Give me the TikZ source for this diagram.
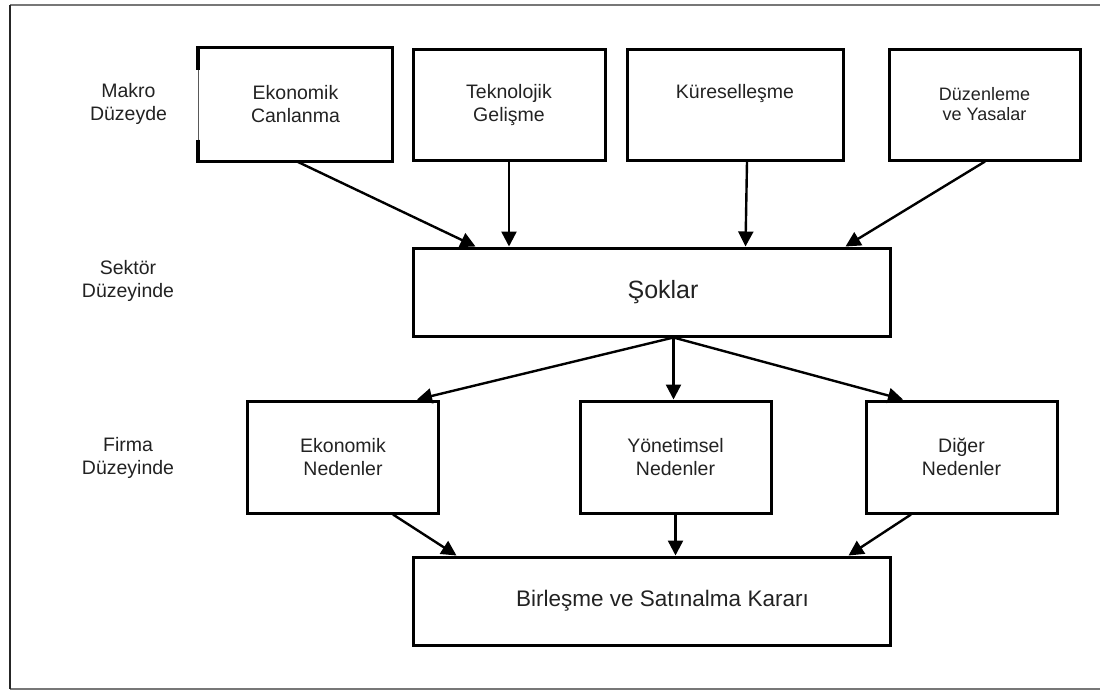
\documentclass[tikz,border=0pt]{standalone}
\usepackage{fontspec}
\setmainfont{Liberation Sans}
\usetikzlibrary{arrows.meta,calc}

\definecolor{txt}{HTML}{222222}
\definecolor{framegray}{HTML}{777777}
\newcommand\boxfont{\fontsize{19.5}{23}\selectfont}
\newcommand\narrowfont{\fontsize{18}{20}\selectfont}
\newcommand\bigboxfont{\fontsize{22.5}{26}\selectfont}
\newcommand\shockfont{\fontsize{25}{29}\selectfont}

\begin{document}
\begin{tikzpicture}[x=1pt,y=-1pt,
  box/.style={draw, line width=3pt, inner sep=0pt, align=center,
    minimum width=191pt, minimum height=111pt, font=\boxfont, text=txt},
  wide/.style={draw, line width=3pt, inner sep=0pt,
    minimum width=477pt, minimum height=88pt, text=txt},
  level/.style={align=center, font=\boxfont, text=txt, inner sep=0pt},
  conn/.style={line width=2.4pt, -{Triangle[length=15pt,width=15pt]}},
  edge/.style={line width=1.4pt, framegray}]

\useasboundingbox (0,0) rectangle (1100,691);

% outer frame (open on the right)
\coordinate (ftl) at (10,5);
\coordinate (ftr) at (1100,5);
\coordinate (fbl) at (10,689);
\coordinate (fbr) at (1100,689);
\draw[edge] (ftl) -- (ftr);
\draw[edge] (fbl) -- (fbr);
\draw[line width=1.3pt, black!85] (ftl) -- (fbl);

% level captions
\node[level] (lmakro)  at (128.5,104) {Makro\\Düzeyde};
\node[level] (lsektor) at (128,281)   {Sektör\\Düzeyinde};
\node[level] (lfirma)  at (128,458)   {Firma\\Düzeyinde};

% macro level: first box has a broken left side
\node[box, draw=none] (b1) at (295.5,104.5) {Ekonomik\\Canlanma};
\draw[line width=3pt] (b1.south west) -- (b1.south east) -- (b1.north east) -- (b1.north west);
\draw[line width=1.2pt, black!65] (b1.north west) -- (b1.south west);
\draw[line width=3.4pt] ($(b1.north west)+(-0.5,-1.5)$) -- ($(b1.north west)+(-0.5,22)$);
\draw[line width=3.4pt] ($(b1.south west)+(-0.5,-22)$) -- ($(b1.south west)+(-0.5,1.5)$);

\node[box, minimum width=192pt] (b2) at (509,104.5)   {Teknolojik\\Gelişme};
\node[box, minimum width=216pt] (b3) at (735,104.5)   {Küreselleşme\\\phantom{Xg}};
\node[box, font=\narrowfont] (b4) at (984.5,104.5) {Düzenleme\\ve Yasalar};

% sector level
\node[wide, font=\shockfont] (sok) at (651.5,292) {\hspace*{23pt}Şoklar};

% firm level
\node[box, minimum height=112pt] (en) at (343,457)   {Ekonomik\\Nedenler};
\node[box, minimum height=112pt] (yn) at (675.5,457) {Yönetimsel\\Nedenler};
\node[box, minimum height=112pt] (dn) at (961.5,457) {Diğer\\Nedenler};

% decision
\node[wide, font=\bigboxfont] (bsk) at (651.5,601) {\hspace*{22pt}Birleşme ve Satınalma Kararı};

% macro -> sector
\draw[conn] ($(b1.south)+(1.5,0)$) -- ($(sok.north west)+(64,0)$);
\draw[conn] (b2.south) -- (b2.south |- sok.north);
\draw[conn] ($(b3.south)+(12,0)$) -- ($(sok.north west)+(334,0)$);
\draw[conn] ($(b4.south)+(0.5,0)$) -- ($(sok.north west)+(434,0)$);

% sector -> firm
\coordinate (sokout) at ($(sok.south west)+(262,0)$);
\draw[conn] (sokout) -- ($(en.north)+(74,0)$);
\draw[conn] (sokout) -- (sokout |- yn.north);
\draw[conn] (sokout) -- ($(dn.north)+(-58.5,0)$);

% firm -> decision
\draw[conn] ($(en.south)+(50,0)$) -- ($(bsk.north west)+(45,0)$);
\draw[conn] (yn.south) -- (yn.south |- bsk.north);
\draw[conn] ($(dn.south)+(-50.5,0)$) -- ($(bsk.north west)+(437,0)$);

\end{tikzpicture}
\end{document}
